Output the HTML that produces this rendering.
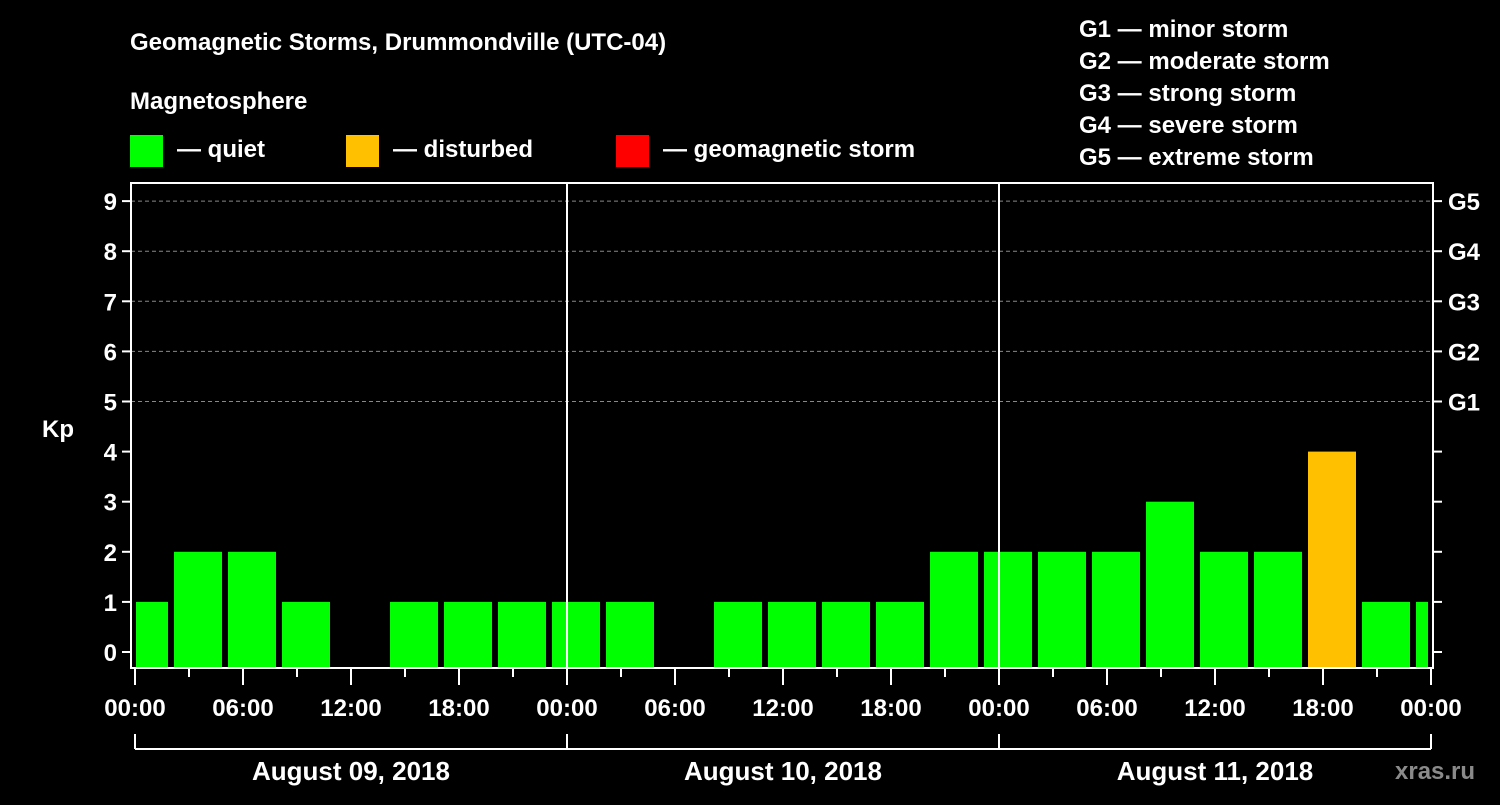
<!DOCTYPE html>
<html><head><meta charset="utf-8"><style>
body{margin:0;background:#000;width:1500px;height:800px;overflow:hidden;font-family:"Liberation Sans",sans-serif}
svg text{font-family:"Liberation Sans",sans-serif;font-weight:bold;fill:#fff}
</style></head><body>
<svg id="chart" width="1500" height="800" xmlns="http://www.w3.org/2000/svg">
<text x="130" y="50" font-size="24">Geomagnetic Storms, Drummondville (UTC-04)</text>
<text x="130" y="109" font-size="24">Magnetosphere</text>
<g>
<rect x="130" y="135" width="33" height="32" fill="#00ff00"/>
<text x="177" y="157" font-size="24">— quiet</text>
<rect x="346" y="135" width="33" height="32" fill="#ffc000"/>
<text x="393" y="157" font-size="24">— disturbed</text>
<rect x="616" y="135" width="33" height="32" fill="#ff0000"/>
<text x="663" y="157" font-size="24">— geomagnetic storm</text>
</g>
<g font-size="24">
<text x="1079" y="37">G1 — minor storm</text>
<text x="1079" y="69">G2 — moderate storm</text>
<text x="1079" y="101">G3 — strong storm</text>
<text x="1079" y="133">G4 — severe storm</text>
<text x="1079" y="165">G5 — extreme storm</text>
</g>
<text x="42" y="437" font-size="24">Kp</text>
<text x="1395" y="779" font-size="24" fill="#888" style="fill:#8a8a8a">xras.ru</text>
<g id="grid"></g><g id="bars"></g><g id="axes"></g>
</svg>
<script>
const kpValues=[1,2,2,1,0,1,1,1,1,1,0,1,1,1,1,2,2,2,2,3,2,2,4,1,1];
const binStartHours=[-1,2,5,8,11,14,17,20,23,26,29,32,35,38,41,44,47,50,53,56,59,62,65,68,71];
const yTicks=[0,1,2,3,4,5,6,7,8,9];
const gLabels=["G1","G2","G3","G4","G5"];
const xTickLabels=["00:00","06:00","12:00","18:00","00:00","06:00","12:00","18:00","00:00","06:00","12:00","18:00","00:00"];
const dayLabels=["August 09, 2018","August 10, 2018","August 11, 2018"];
const NS="http://www.w3.org/2000/svg";
const X0=131,X1=1433,Y0=183,Y1=668,PX=135,PXE=1431;
const x=h=>PX+(PXE-PX)*h/72;
const y=v=>652-v*50.1;
function mk(p,t,a){const e=document.createElementNS(NS,t);for(const k in a)e.setAttribute(k,a[k]);p.appendChild(e);return e;}
const grid=document.getElementById('grid'),bars=document.getElementById('bars'),axes=document.getElementById('axes');
yTicks.forEach(v=>{if(v>=5){const l=mk(grid,'line',{x1:X0,x2:X1,y1:y(v),y2:y(v),stroke:'#888','stroke-dasharray':'4,3','stroke-width':1});

}});
kpValues.forEach((v,i)=>{if(v<=0)return;
let a=x(binStartHours[i])+3,b=x(binStartHours[i]+3)-3;a=Math.max(a,X0+5);b=Math.min(b,PXE-3);
const col=v>=5?'#ff0000':(v>=4?'#ffc000':'#00ff00');
const r=mk(bars,'rect',{x:a,y:y(v),width:b-a,height:Y1-y(v),fill:col});

});
const fr=mk(axes,'rect',{x:X0,y:Y0,width:X1-X0,height:Y1-Y0,fill:'none',stroke:'#fff','stroke-width':2});


[1,2].forEach(d=>{const l=mk(axes,'line',{x1:x(24*d),x2:x(24*d),y1:Y0,y2:Y1,stroke:'#fff','stroke-width':2});

});
yTicks.forEach(v=>{mk(axes,'line',{x1:X0-9,x2:X0,y1:y(v),y2:y(v),stroke:'#fff','stroke-width':2});
mk(axes,'line',{x1:X1,x2:X1+9,y1:y(v),y2:y(v),stroke:'#fff','stroke-width':2});
const t=mk(axes,'text',{x:X0-14,y:y(v)+9,'font-size':24,'text-anchor':'end'});t.textContent=v;


if(v>=5){const g=mk(axes,'text',{x:X1+15,y:y(v)+9,'font-size':24});g.textContent=gLabels[v-5];

}});
for(let h=0;h<=72;h+=3){mk(axes,'line',{x1:x(h),x2:x(h),y1:Y1,y2:Y1+(h%6?9:17),stroke:'#fff','stroke-width':2});}
xTickLabels.forEach((s,i)=>{const t=mk(axes,'text',{x:x(i*6),y:716,'font-size':24,'text-anchor':'middle'});t.textContent=s;

});
mk(axes,'line',{x1:PX,x2:PXE,y1:749,y2:749,stroke:'#fff','stroke-width':2});
for(let d=0;d<=3;d++)mk(axes,'line',{x1:x(24*d),x2:x(24*d),y1:734,y2:749,stroke:'#fff','stroke-width':2});
dayLabels.forEach((s,i)=>{const t=mk(axes,'text',{x:x(24*i+12),y:780,'font-size':26,'text-anchor':'middle'});t.textContent=s;

});
</script>
</body></html>
